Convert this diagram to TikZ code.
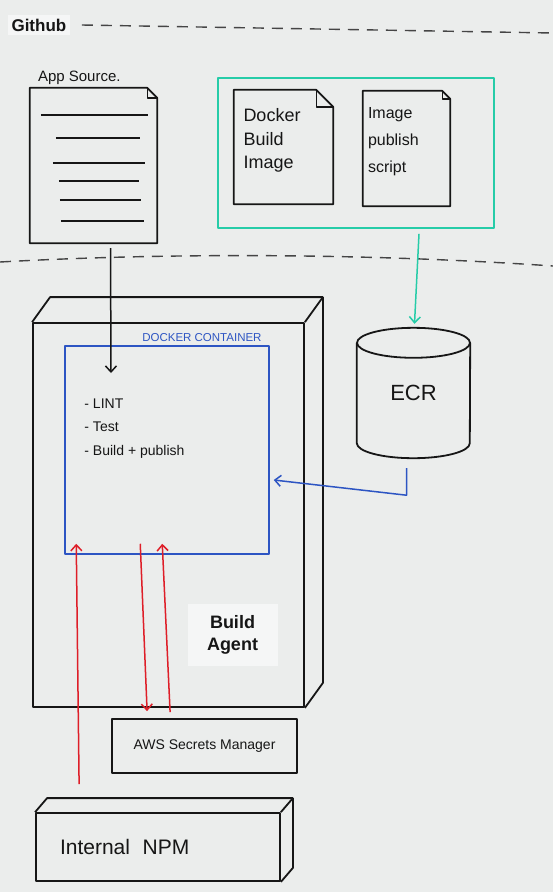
\documentclass[tikz,border=0pt]{standalone}
\usepackage{fontspec}
\setmainfont{Liberation Sans}
\usetikzlibrary{calc,arrows.meta,positioning}

\definecolor{board}{RGB}{235,237,236}
\definecolor{paper}{RGB}{245,246,246}
\definecolor{ink}{RGB}{22,22,22}
\definecolor{mint}{RGB}{38,204,168}
\definecolor{bluepen}{RGB}{45,85,195}
\definecolor{redpen}{RGB}{222,30,40}

\tikzset{
  pen/.style={draw=ink,line width=1.8pt},
  boardline/.style={draw=ink!80,line width=1.4pt,dash pattern=on 11pt off 8pt},
  flow/.style={-{Straight Barb[length=6pt,width=11pt]},line width=1.5pt},
}

% page with a folded corner, #2 = size of the fold
\newcommand{\pageoutline}[2]{%
  \draw[pen] (#1.north west) -- ($(#1.north east)+(-#2,0)$) -- ($(#1.north east)+(0,#2)$)
    -- (#1.south east) -- (#1.south west) -- cycle;
  \draw[pen,line width=1.4pt] ($(#1.north east)+(-#2,0)$) -- ($(#1.north east)+(-#2,#2)$) -- ($(#1.north east)+(0,#2)$);}

\begin{document}
\begin{tikzpicture}[x=1pt,y=-1pt,line join=round]
	\fill[board] (0,0) rectangle (553,892);
	\useasboundingbox (0,0) rectangle (553,892);
	% github zone
	\node(gh) [anchor=west,fill=paper,text=ink,font=\fontsize{17}{20}\selectfont\bfseries] at (8,25) {Github};
	\coordinate (topr) at (553,33);
	\coordinate (midl) at (0,262);
	\coordinate (midr) at (553,266);
	\draw[boardline] ($(gh.east)+(12,0)$) -- (topr);
	\draw[boardline] (midl) .. controls (180,252) and (380,254) .. (midr);
	% app source
	\node(app) [minimum width=127pt,minimum height=155pt] at (93.5,165.5) {};
	\pageoutline{app}{10}
	\foreach \dy/\xa/\xb in {27/11/118,50/26/110,75/23/115,93/29/109,112/30/111,133/31/114}
		\draw[pen,line width=1.4pt] ($(app.north west)+(\xa,\dy)$) -- ($(app.north west)+(\xb,\dy)$);
	\node(applbl) [above right=3pt and 8pt of app.north west,inner sep=0pt,text=ink,font=\fontsize{15}{15}\selectfont] {App Source.};
	% build scripts
	\node(repo) [draw=mint,line width=1.8pt,minimum width=276pt,minimum height=150pt] at (356,153) {};
	\node(dockfile) [minimum width=99pt,minimum height=114pt,text width=80pt,inner sep=0pt,align=left,text depth=64pt,text=ink,font=\fontsize{18}{23.5}\selectfont] at (283.5,147) {Docker\\Build\\Image};
	\pageoutline{dockfile}{17}
	\node(pubscript) [minimum width=87pt,minimum height=115pt,text width=77pt,inner sep=0pt,align=left,text depth=71pt,text=ink,font=\fontsize{16}{27}\selectfont] at (406.5,148.5) {Image\\publish\\script};
	\pageoutline{pubscript}{8}
	% ecr
	\node(ecr) [minimum width=113pt,minimum height=130pt,text=ink,font=\fontsize{22}{22}\selectfont] at (413.5,393) {ECR};
	\draw[pen] ($(ecr.north)+(0,15)$) ellipse [x radius=56.5pt,y radius=15pt];
	\draw[pen] ($(ecr.north west)+(0,15)$) -- ($(ecr.south west)+(0,-15)$) arc[start angle=180,end angle=360,x radius=56.5pt,y radius=15pt] -- ($(ecr.north east)+(0,15)$);
	% build agent
	\node(agent) [pen,minimum width=271pt,minimum height=384pt] at (168.5,515) {};
	\draw[pen] (agent.north west) -- ++(18,-25) -- ($(agent.north east)+(18,-25)$) -- ($(agent.south east)+(18,-25)$) -- (agent.south east);
	\draw[pen] (agent.north east) -- ++(18,-25);
	\node(agentlbl) [fill=paper,align=center,minimum width=90pt,minimum height=62pt,text=ink,font=\fontsize{18}{22}\selectfont\bfseries] at ($(agent.south)+(64,-73)$) {Build\\Agent};
	% docker container
	\node(dock) [draw=bluepen,line width=1.5pt,minimum width=204pt,minimum height=208pt] at (167,450) {};
	\node(docklbl) [anchor=south east,inner sep=1pt,text=bluepen,font=\fontsize{11.5}{12}\selectfont] at ($(dock.north east)+(-7,-2)$) {DOCKER CONTAINER};
	\node(steps) [below right=53pt and 20pt of dock.north west,inner sep=0pt,align=left,text=ink,font=\fontsize{14}{23.5}\selectfont] {- LINT\\- Test\\- Build + publish};
	% secrets and npm
	\node(aws) [pen,minimum width=185pt,minimum height=54pt,text=ink,font=\fontsize{14}{14}\selectfont] at (204.5,746) {AWS Secrets Manager};
	\node(npm) [pen,minimum width=244pt,minimum height=68pt,text width=196pt,align=left,text=ink,font=\fontsize{21}{21}\selectfont] at (158,847) {Internal\hspace{0.6em}NPM};
	\draw[pen] (npm.north west) -- ++(12,-14) -- ($(npm.north east)+(12,-14)$) -- ($(npm.south east)+(12,-14)$) -- (npm.south east);
	\draw[pen] (npm.north east) -- ++(12,-14);
	% connectors
	\coordinate (srcin) at (111,373);
	\draw[pen,flow] ($(app.south)+(17,5)$) -- (srcin);
	\draw[flow,draw=mint] ($(repo.south)+(63,5)$) -- ($(ecr.north)+(1,-4)$);
	\draw[flow,draw=bluepen] ($(ecr.south)+(-7,10)$) -- ++(0,27) -- ($(dock.east)+(4,30)$);
	\draw[flow,draw=redpen] ($(npm.north west)+(44,-28)$) -- ($(dock.south west)+(12,-11)$);
	\draw[flow,draw=redpen] ($(dock.south west)+(76,-11)$) -- ($(aws.north west)+(36,-7)$);
	\draw[flow,draw=redpen] ($(aws.north west)+(59,-6)$) -- ($(dock.south west)+(98,-11)$);
\end{tikzpicture}
\end{document}
